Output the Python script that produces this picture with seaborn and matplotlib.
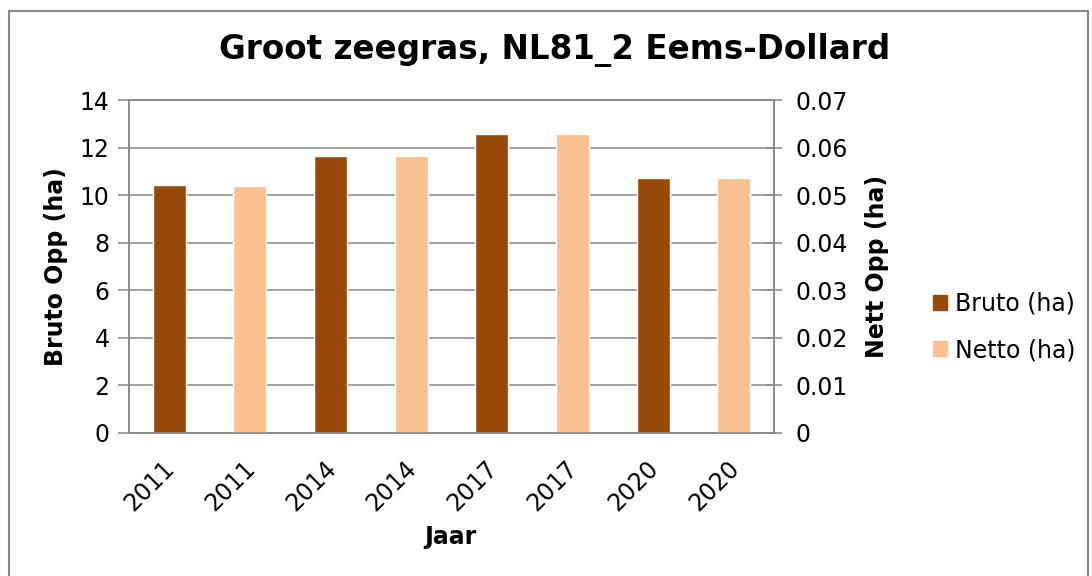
import numpy as np
import pandas as pd
import matplotlib
matplotlib.use("Agg")
import matplotlib.pyplot as plt
import matplotlib.ticker as mticker
import matplotlib.transforms as mtransforms
from matplotlib.patches import Rectangle, Patch
import seaborn as sns

# Data
years = ["2011", "2011", "2014", "2014", "2017", "2017", "2020", "2020"]
bruto_pos = [0, 2, 4, 6]
bruto_vals = [10.41, 11.65, 12.55, 10.74]
netto_pos = [1, 3, 5, 7]
netto_vals = [0.0520, 0.0583, 0.0628, 0.0537]

bruto_color = "#984807"
netto_color = "#FAC090"
grid_color = "#888888"

sns.set_style("white")
plt.rcParams["font.family"] = ["DejaVu Sans"]
plt.rcParams["text.color"] = "black"
plt.rcParams["axes.labelcolor"] = "black"

df_bruto = pd.DataFrame({"pos": bruto_pos, "val": bruto_vals})
df_netto = pd.DataFrame({"pos": netto_pos, "val": netto_vals})
order = list(range(len(years)))

fig = plt.figure(figsize=(10.92, 5.76), dpi=100)
W, H = 1092, 576
ax = fig.add_axes([129 / W, (H - 433) / H, 645 / W, 333 / H])

sns.barplot(data=df_bruto, x="pos", y="val", order=order, color=bruto_color,
            width=0.41, ax=ax, saturation=1, zorder=2)
ax2 = ax.twinx()
sns.barplot(data=df_netto, x="pos", y="val", order=order, color=netto_color,
            width=0.41, ax=ax2, saturation=1, zorder=2)

ax.set_ylim(0, 14)
ax2.set_ylim(0, 0.07)
ax.set_xlim(-0.5, len(years) - 0.5)
ax.set_yticks(np.arange(0, 15, 2))
ax2.set_yticks(np.arange(0, 0.0701, 0.01))
ax2.yaxis.set_major_formatter(mticker.FuncFormatter(lambda v, p: "0" if abs(v) < 1e-9 else f"{v:.2f}"))

ax.grid(axis="y", color=grid_color, linewidth=1.1, zorder=0)
ax.set_axisbelow(True)
for a in (ax, ax2):
    for s in a.spines.values():
        s.set_color(grid_color)
        s.set_linewidth(1.1)

# category labels in the middle, tick marks on the boundaries
ax.set_xticks(order)
ax.set_xticklabels(years, rotation=45, ha="right", va="center", rotation_mode="anchor", fontsize=17)
ax.set_xticks(np.arange(-0.5, len(years)), minor=True)
ax.tick_params(axis="x", which="major", length=0, pad=23, labelcolor="black")
ax.tick_params(axis="x", which="minor", length=6, width=1.1, color=grid_color, direction="out")
shift = mtransforms.ScaledTranslation(1.2 / 72, 0, fig.dpi_scale_trans)
for lbl in ax.get_xticklabels():
    lbl.set_transform(lbl.get_transform() + shift)
ax.tick_params(axis="y", length=8, width=1.1, color=grid_color, direction="out",
               labelsize=17, pad=6, labelcolor="black")
ax2.tick_params(axis="y", length=11.5, width=1.1, color=grid_color, direction="inout",
                labelsize=17, pad=9.5, labelcolor="black")

ax.set_xlabel("Jaar", fontsize=17, fontweight="bold")
ax.xaxis.set_label_coords(0.499, -0.276)
ax.set_ylabel("Bruto Opp (ha)", fontsize=17, fontweight="bold")
ax.yaxis.set_label_coords(-0.0946, 0.5)
ax2.set_ylabel("Nett Opp (ha)", fontsize=17, fontweight="bold")
ax2.yaxis.set_label_coords(1.141, 0.5)

fig.text(555 / W, 1 - 50 / H, "Groot zeegras, NL81_2 Eems-Dollard", ha="center", va="center",
         fontsize=23.5, fontweight="bold")

handles = [Patch(color=bruto_color, label="Bruto (ha)"), Patch(color=netto_color, label="Netto (ha)")]
fig.legend(handles=handles, loc="center left", bbox_to_anchor=(916 / W, 1 - 327 / H), frameon=False,
           fontsize=17, handlelength=0.6, handleheight=0.6, handletextpad=0.35, labelspacing=0.95,
           borderpad=0.2)

# chart area border
fig.patches.append(Rectangle((9 / W, -0.05), 1079 / W, 1.05 - 11 / H, transform=fig.transFigure,
                             fill=False, edgecolor=grid_color, linewidth=1.5))

fig.savefig("out.png", dpi=100)
